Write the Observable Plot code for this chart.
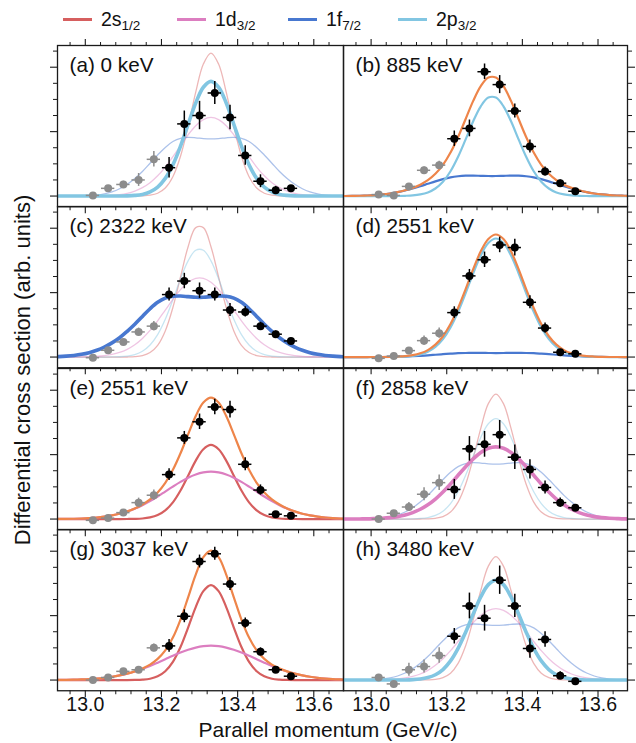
<!DOCTYPE html>
<html><head><meta charset="utf-8">
<script src="https://cdn.jsdelivr.net/npm/d3@7"></script>
<script src="https://cdn.jsdelivr.net/npm/@observablehq/plot@0.6"></script>
<style>
body{margin:0;background:#fff;}
#fig{position:relative;width:636px;height:743px;font-family:"Liberation Sans",Arial,Helvetica,sans-serif;color:#111;overflow:hidden;}
.panel{position:absolute;}
.panel svg{overflow:visible;max-width:none;}
.legitem{position:absolute;display:flex;align-items:center;height:38px;top:0;}
.legline{width:29px;height:3px;margin-right:9px;}
.legtext{font-size:19.5px;line-height:1;white-space:nowrap;position:relative;top:1px;}
.legtext sub{font-size:13.5px;vertical-align:baseline;position:relative;top:4px;}
#ylab{position:absolute;left:23px;top:370px;transform:translate(-50%,-50%) rotate(-90deg);font-size:22px;white-space:nowrap;line-height:1;}
#xlab{position:absolute;left:328px;top:719px;transform:translateX(-50%);font-size:21px;white-space:nowrap;line-height:1;}
</style></head><body><div id="fig"></div>
<script>
// ---------- data ----------
const xGrid = [12.91,12.93,12.95,12.97,12.99,13.01,13.03,13.05,13.07,13.09,13.11,13.13,13.15,13.17,13.19,13.21,13.23,13.25,13.27,13.29,13.31,13.33,13.35,13.37,13.39,13.41,13.43,13.45,13.47,13.49,13.51,13.53,13.55,13.57,13.59,13.61,13.63,13.65,13.67,13.69];
const pX = [13.02,13.06,13.10,13.14,13.18,13.22,13.26,13.30,13.34,13.38,13.42,13.46,13.50,13.54];
const nGrey = 5;
const xMajor = [13.0,13.2,13.4,13.6];
const xMinor = [12.96,13.04,13.08,13.12,13.16,13.24,13.28,13.32,13.36,13.44,13.48,13.52,13.56,13.64];
const yMajor = [0,1,2];
const yMinor = [0.25,0.5,0.75,1.25,1.5,1.75,2.25];
const labels = ["(a) 0 keV","(b) 885 keV","(c) 2322 keV","(d) 2551 keV","(e) 2551 keV","(f) 2858 keV","(g) 3037 keV","(h) 3480 keV"];
const legendNames = [["2s","1/2"],["1d","3/2"],["1f","7/2"],["2p","3/2"]];

// (a) 0 keV
const a_2s = [0,0,0,0,0,0,0,0,0,0,0,0.001,0.003,0.013,0.044,0.125,0.300,0.617,1.081,1.612,2.049,2.22,2.049,1.612,1.081,0.617,0.300,0.125,0.044,0.013,0.003,0.001,0,0,0,0,0,0,0,0];
const a_2p = [0,0,0,0,0,0,0,0,0,0.001,0.003,0.010,0.026,0.064,0.139,0.274,0.484,0.774,1.114,1.445,1.689,1.78,1.689,1.445,1.114,0.774,0.484,0.274,0.139,0.064,0.026,0.010,0.003,0.001,0,0,0,0,0,0];
const a_1d = [0,0,0,0,0,0.001,0.002,0.005,0.011,0.023,0.043,0.077,0.130,0.207,0.314,0.450,0.611,0.783,0.951,1.092,1.187,1.22,1.187,1.092,0.951,0.783,0.611,0.450,0.314,0.207,0.130,0.077,0.043,0.023,0.011,0.005,0.002,0.001,0,0];
const a_1f = [0,0,0,0.001,0.003,0.007,0.016,0.035,0.066,0.114,0.182,0.273,0.382,0.510,0.637,0.755,0.846,0.896,0.910,0.904,0.892,0.887,0.892,0.904,0.910,0.896,0.846,0.755,0.637,0.510,0.382,0.273,0.182,0.114,0.066,0.035,0.016,0.007,0.003,0.001];
const a_pts = [0.01,0.12,0.18,0.25,0.57,0.44,1.12,1.25,1.60,1.22,0.63,0.23,0.09,0.12];
const a_err = [0.02,0.03,0.05,0.10,0.12,0.16,0.20,0.22,0.18,0.19,0.15,0.10,0.06,0.03];
// (b) 885 keV
const b_2p = [0,0,0,0,0,0,0,0,0.001,0.004,0.010,0.025,0.056,0.117,0.222,0.385,0.610,0.880,1.160,1.393,1.528,1.528,1.393,1.160,0.880,0.610,0.385,0.222,0.117,0.056,0.025,0.010,0.004,0.001,0,0,0,0,0,0];
const b_1f = [0,0.001,0.003,0.005,0.009,0.015,0.025,0.040,0.060,0.086,0.117,0.152,0.190,0.228,0.262,0.290,0.307,0.316,0.317,0.314,0.311,0.311,0.314,0.317,0.316,0.307,0.290,0.262,0.228,0.190,0.152,0.117,0.086,0.060,0.040,0.025,0.015,0.009,0.005,0.003];
const b_tot = [0,0.001,0.003,0.005,0.009,0.015,0.025,0.040,0.061,0.090,0.127,0.177,0.246,0.345,0.484,0.675,0.917,1.196,1.477,1.707,1.839,1.839,1.707,1.477,1.196,0.917,0.675,0.484,0.345,0.246,0.177,0.127,0.090,0.061,0.040,0.025,0.015,0.009,0.005,0.003];
const b_pts = [0.023,0.01,0.15,0.40,0.48,0.89,1.05,1.93,1.73,1.32,0.77,0.38,0.20,0.075];
const b_err = [0.02,0.02,0.04,0.05,0.06,0.12,0.13,0.12,0.14,0.11,0.10,0.07,0.05,0.04];
// (c) 2322 keV
const c_1f = [0.003,0.007,0.014,0.025,0.042,0.068,0.105,0.155,0.220,0.300,0.400,0.510,0.630,0.750,0.850,0.915,0.943,0.947,0.938,0.928,0.928,0.938,0.947,0.943,0.915,0.850,0.750,0.630,0.510,0.400,0.300,0.220,0.155,0.105,0.068,0.042,0.025,0.014,0.007,0.003];
const c_2s = [0,0,0,0,0,0,0,0,0,0,0.001,0.006,0.023,0.070,0.182,0.406,0.769,1.243,1.713,2.009,2.009,1.713,1.243,0.769,0.406,0.182,0.070,0.023,0.006,0.001,0,0,0,0,0,0,0,0,0,0];
const c_2p = [0,0,0,0,0,0,0,0,0.002,0.005,0.015,0.039,0.090,0.187,0.348,0.586,0.888,1.214,1.494,1.658,1.658,1.494,1.214,0.888,0.586,0.348,0.187,0.090,0.039,0.015,0.005,0.002,0,0,0,0,0,0,0,0];
const c_1d = [0,0,0,0.001,0.002,0.005,0.011,0.022,0.040,0.071,0.120,0.190,0.288,0.413,0.563,0.729,0.896,1.047,1.161,1.222,1.222,1.161,1.047,0.896,0.729,0.563,0.413,0.288,0.190,0.120,0.071,0.040,0.022,0.011,0.005,0.002,0.001,0,0,0];
const c_pts = [-0.01,0.105,0.235,0.39,0.48,0.97,1.18,1.03,0.97,0.73,0.70,0.48,0.355,0.25];
const c_err = [0.02,0.03,0.04,0.06,0.07,0.10,0.12,0.12,0.10,0.10,0.08,0.06,0.05,0.04];
// (d) and (e) 2551 keV (same measurement)
const d_2p = [0,0,0,0,0,0,0,0.001,0.003,0.007,0.017,0.039,0.081,0.156,0.278,0.459,0.701,0.992,1.301,1.577,1.770,1.84,1.770,1.577,1.301,0.992,0.701,0.459,0.278,0.156,0.081,0.039,0.017,0.007,0.003,0.001,0,0,0,0];
const d_1f = [0,0,0,0,0,0.001,0.001,0.002,0.005,0.008,0.013,0.019,0.027,0.036,0.045,0.053,0.060,0.063,0.064,0.064,0.063,0.062,0.063,0.064,0.064,0.063,0.060,0.053,0.045,0.036,0.027,0.019,0.013,0.008,0.005,0.002,0.001,0.001,0,0];
const d_tot = [0,0,0,0,0,0.001,0.001,0.003,0.008,0.015,0.030,0.058,0.108,0.192,0.323,0.512,0.761,1.055,1.365,1.641,1.833,1.902,1.833,1.641,1.365,1.055,0.761,0.512,0.323,0.192,0.108,0.058,0.030,0.015,0.008,0.003,0.001,0.001,0,0];
const e_2s = [0,0,0,0,0,0,0,0,0,0,0.001,0.003,0.009,0.026,0.062,0.135,0.260,0.444,0.673,0.907,1.084,1.15,1.084,0.907,0.673,0.444,0.260,0.135,0.062,0.026,0.009,0.003,0.001,0,0,0,0,0,0,0];
const e_1d = [0.001,0.002,0.003,0.005,0.009,0.015,0.024,0.038,0.057,0.083,0.118,0.162,0.216,0.279,0.350,0.427,0.504,0.577,0.642,0.692,0.724,0.735,0.724,0.692,0.642,0.577,0.504,0.427,0.350,0.279,0.216,0.162,0.118,0.083,0.057,0.038,0.024,0.015,0.009,0.005];
const e_tot = [0.001,0.002,0.003,0.005,0.009,0.015,0.024,0.038,0.057,0.083,0.119,0.165,0.225,0.305,0.412,0.562,0.764,1.021,1.315,1.599,1.808,1.885,1.808,1.599,1.315,1.021,0.764,0.562,0.412,0.305,0.225,0.165,0.119,0.083,0.057,0.038,0.024,0.015,0.009,0.005];
const de_pts = [-0.02,0.015,0.10,0.255,0.37,0.69,1.26,1.51,1.74,1.70,0.85,0.45,0.075,0.05];
const de_err = [0.02,0.02,0.04,0.07,0.08,0.09,0.10,0.12,0.12,0.13,0.10,0.08,0.04,0.03];
// (f) 2858 keV
const f_1d = [0,0,0.001,0.002,0.003,0.007,0.012,0.022,0.038,0.063,0.100,0.152,0.222,0.311,0.420,0.545,0.680,0.813,0.935,1.034,1.098,1.12,1.098,1.034,0.935,0.813,0.680,0.545,0.420,0.311,0.222,0.152,0.100,0.063,0.038,0.022,0.012,0.007,0.003,0.002];
const f_2s = [0,0,0,0,0,0,0,0,0,0,0,0.001,0.003,0.012,0.038,0.109,0.262,0.539,0.945,1.408,1.791,1.94,1.791,1.408,0.945,0.539,0.262,0.109,0.038,0.012,0.003,0.001,0,0,0,0,0,0,0,0];
const f_2p = [0,0,0,0,0,0,0,0,0,0,0.003,0.009,0.023,0.056,0.122,0.240,0.424,0.679,0.977,1.267,1.480,1.56,1.480,1.267,0.977,0.679,0.424,0.240,0.122,0.056,0.023,0.009,0.003,0,0,0,0,0,0,0];
const f_1f = [0,0,0,0.001,0.003,0.007,0.016,0.033,0.063,0.109,0.175,0.263,0.368,0.490,0.613,0.726,0.814,0.862,0.875,0.869,0.858,0.853,0.858,0.869,0.875,0.862,0.814,0.726,0.613,0.490,0.368,0.263,0.175,0.109,0.063,0.033,0.016,0.007,0.003,0.001];
const f_pts = [0,0.09,0.187,0.385,0.565,0.46,1.09,1.16,1.31,0.96,0.77,0.49,0.255,0.175];
const f_err = [0.02,0.04,0.07,0.10,0.12,0.155,0.19,0.20,0.22,0.19,0.15,0.10,0.07,0.04];
// (g) 3037 keV
const g_2s = [0,0,0,0,0,0,0,0,0,0,0,0.002,0.007,0.021,0.058,0.137,0.282,0.512,0.814,1.133,1.381,1.475,1.381,1.133,0.814,0.512,0.282,0.137,0.058,0.021,0.007,0.002,0,0,0,0,0,0,0,0];
const g_1d = [0.001,0.002,0.004,0.006,0.010,0.015,0.023,0.035,0.051,0.072,0.099,0.133,0.173,0.219,0.270,0.323,0.377,0.427,0.470,0.504,0.526,0.533,0.526,0.504,0.470,0.427,0.377,0.323,0.270,0.219,0.173,0.133,0.099,0.072,0.051,0.035,0.023,0.015,0.010,0.006];
const g_tot = [0.001,0.002,0.004,0.006,0.010,0.015,0.023,0.035,0.051,0.072,0.099,0.135,0.180,0.240,0.328,0.460,0.659,0.939,1.284,1.637,1.907,2.008,1.907,1.637,1.284,0.939,0.659,0.460,0.328,0.240,0.180,0.135,0.099,0.072,0.051,0.035,0.023,0.015,0.010,0.006];
const g_pts = [0,0.04,0.135,0.16,0.50,0.53,0.99,1.84,1.96,1.49,0.885,0.44,0.16,0.06];
const g_err = [0.02,0.03,0.04,0.05,0.06,0.10,0.10,0.10,0.10,0.10,0.08,0.06,0.04,0.03];
// (h) 3480 keV
const h_2p = [0,0,0,0,0,0,0,0,0.001,0.002,0.006,0.016,0.038,0.082,0.163,0.297,0.492,0.743,1.025,1.290,1.481,1.55,1.481,1.290,1.025,0.743,0.492,0.297,0.163,0.082,0.038,0.016,0.006,0.002,0.001,0,0,0,0,0];
const h_2s = [0,0,0,0,0,0,0,0,0,0,0,0.001,0.003,0.011,0.038,0.107,0.259,0.532,0.933,1.390,1.768,1.915,1.768,1.390,0.933,0.532,0.259,0.107,0.038,0.011,0.003,0.001,0,0,0,0,0,0,0,0];
const h_1d = [0,0,0,0,0,0.002,0.004,0.009,0.017,0.032,0.056,0.094,0.150,0.229,0.331,0.456,0.598,0.748,0.889,1.006,1.083,1.11,1.083,1.006,0.889,0.748,0.598,0.456,0.331,0.229,0.150,0.094,0.056,0.032,0.017,0.009,0.004,0.002,0,0];
const h_1f = [0,0,0,0.001,0.003,0.007,0.016,0.033,0.063,0.109,0.174,0.261,0.365,0.487,0.609,0.722,0.809,0.857,0.870,0.864,0.853,0.848,0.853,0.864,0.870,0.857,0.809,0.722,0.609,0.487,0.365,0.261,0.174,0.109,0.063,0.033,0.016,0.007,0.003,0.001];
const h_pts = [0.04,-0.06,0.16,0.21,0.38,0.68,1.15,0.96,1.55,1.15,0.49,0.63,0.067,-0.02];
const h_err = [0.03,0.03,0.10,0.10,0.12,0.12,0.20,0.20,0.22,0.18,0.15,0.12,0.06,0.04];

// ---------- style ----------
const COL = {s:"#d65f5f", d:"#dc7ec0", f:"#4878d0", p:"#82c6e2", tot:"#ee854a"};
const FAINT = {w:1.3, o:0.45}, THICK = {w:3.6, o:1}, SOLID = {w:2.2, o:1};
const GREY = "#8c8c8c";
const FONT = "'Liberation Sans', Arial, Helvetica, sans-serif";
const xDomain = [12.927, 13.678], yDomain = [-0.166, 2.337];
const xErr = 0.0175;
const colX = [57, 343], colW = [286, 284];
const rowY = [45, 206.25, 367.5, 528.75], rowH = 161.25;
const mL = 14, mR = 14, mT = 14, mB = 34;

const panels = [
  {col:0,row:0,curves:[[a_2s,"s",FAINT],[a_1d,"d",FAINT],[a_1f,"f",FAINT],[a_2p,"p",THICK]],pts:a_pts,err:a_err},
  {col:1,row:0,curves:[[b_1f,"f",SOLID],[b_2p,"p",SOLID],[b_tot,"tot",SOLID]],pts:b_pts,err:b_err},
  {col:0,row:1,curves:[[c_2s,"s",FAINT],[c_2p,"p",FAINT],[c_1d,"d",FAINT],[c_1f,"f",THICK]],pts:c_pts,err:c_err},
  {col:1,row:1,curves:[[d_1f,"f",SOLID],[d_2p,"p",SOLID],[d_tot,"tot",SOLID]],pts:de_pts,err:de_err},
  {col:0,row:2,curves:[[e_2s,"s",SOLID],[e_1d,"d",SOLID],[e_tot,"tot",SOLID]],pts:de_pts,err:de_err},
  {col:1,row:2,curves:[[f_2s,"s",FAINT],[f_2p,"p",FAINT],[f_1f,"f",FAINT],[f_1d,"d",THICK]],pts:f_pts,err:f_err},
  {col:0,row:3,curves:[[g_2s,"s",SOLID],[g_1d,"d",SOLID],[g_tot,"tot",SOLID]],pts:g_pts,err:g_err},
  {col:1,row:3,curves:[[h_2s,"s",FAINT],[h_1d,"d",FAINT],[h_1f,"f",FAINT],[h_2p,"p",THICK]],pts:h_pts,err:h_err}
];

const fig = document.getElementById("fig");
const blank = () => "";

panels.forEach((p, k) => {
  const marks = [];
  for (const [arr, key, st] of p.curves) {
    const data = xGrid.map((x, i) => ({x, y: arr[i]}));
    marks.push(Plot.line(data, {x:"x", y:"y", stroke: COL[key], strokeWidth: st.w, strokeOpacity: st.o, curve:"catmull-rom", clip:true}));
  }
  const pts = pX.map((x, i) => ({x, y: p.pts[i], e: p.err[i], grey: i < nGrey}));
  for (const [sel, c] of [[pts.filter(d => d.grey), GREY], [pts.filter(d => !d.grey), "#000"]]) {
    marks.push(Plot.ruleY(sel, {y:"y", x1: d => d.x - xErr, x2: d => d.x + xErr, stroke: c, strokeWidth: 1.5}));
    marks.push(Plot.ruleX(sel, {x:"x", y1: d => d.y - d.e, y2: d => d.y + d.e, stroke: c, strokeWidth: 1.5}));
    marks.push(Plot.dot(sel, {x:"x", y:"y", r: 4, fill: c, stroke: "none"}));
  }
  marks.push(Plot.frame({stroke:"#1a1a1a", strokeWidth:1.3}));
  const bottom = p.row === 3, top = p.row === 0, side = p.col === 0 ? "left" : "right";
  marks.push(Plot.axisX({ticks: xMinor, anchor:"bottom", tickSize:4, tickFormat: blank, label:null, strokeWidth:1}));
  marks.push(Plot.axisX({ticks: xMajor, anchor:"bottom", tickSize:7, tickFormat: blank, label:null, strokeWidth:1.1}));
  if (bottom) {
    marks.push(Plot.text(xMajor, {x: d => d, text: d3.format(".1f"), frameAnchor:"bottom", dy: 6, lineAnchor:"top", fontSize: 19.5, fontFamily: FONT, fill:"#111"}));
  }
  if (top) {
    marks.push(Plot.axisX({ticks: xMinor, anchor:"top", tickSize:4, tickFormat: blank, label:null, strokeWidth:1}));
    marks.push(Plot.axisX({ticks: xMajor, anchor:"top", tickSize:7, tickFormat: blank, label:null, strokeWidth:1.1}));
  }
  marks.push(Plot.axisY({ticks: yMinor, anchor: side, tickSize:4, tickFormat: blank, label:null, strokeWidth:1}));
  marks.push(Plot.axisY({ticks: yMajor, anchor: side, tickSize:7, tickFormat: blank, label:null, strokeWidth:1.1}));
  marks.push(Plot.text([labels[k]], {text: d => d, frameAnchor:"top-left", dx:12, dy:12, lineAnchor:"top", textAnchor:"start", fontSize:20.7, fontFamily: FONT, fill:"#111"}));

  const svg = Plot.plot({
    width: colW[p.col] + mL + mR, height: rowH + mT + mB,
    marginLeft: mL, marginRight: mR, marginTop: mT, marginBottom: mB,
    x: {domain: xDomain}, y: {domain: yDomain},
    style: {background:"none", overflow:"visible", color:"#1a1a1a", fontFamily: FONT, fontSize:"19px", maxWidth:"none"},
    marks
  });
  const div = document.createElement("div");
  div.className = "panel";
  div.style.left = (colX[p.col] - mL) + "px";
  div.style.top = (rowY[p.row] - mT) + "px";
  div.style.width = (colW[p.col] + mL + mR) + "px";
  div.appendChild(svg);
  fig.appendChild(div);
});

// legend
const legKeys = ["s","d","f","p"];
const legX = [63, 177, 288, 398];
legKeys.forEach((key, i) => {
  const it = document.createElement("div");
  it.className = "legitem";
  it.style.left = legX[i] + "px";
  it.innerHTML = `<div class="legline" style="background:${COL[key]}"></div><span class="legtext">${legendNames[i][0]}<sub>${legendNames[i][1]}</sub></span>`;
  fig.appendChild(it);
});
const yl = document.createElement("div"); yl.id = "ylab"; yl.textContent = "Differential cross section (arb. units)"; fig.appendChild(yl);
const xl = document.createElement("div"); xl.id = "xlab"; xl.textContent = "Parallel momentum (GeV/c)"; fig.appendChild(xl);
</script></body></html>
